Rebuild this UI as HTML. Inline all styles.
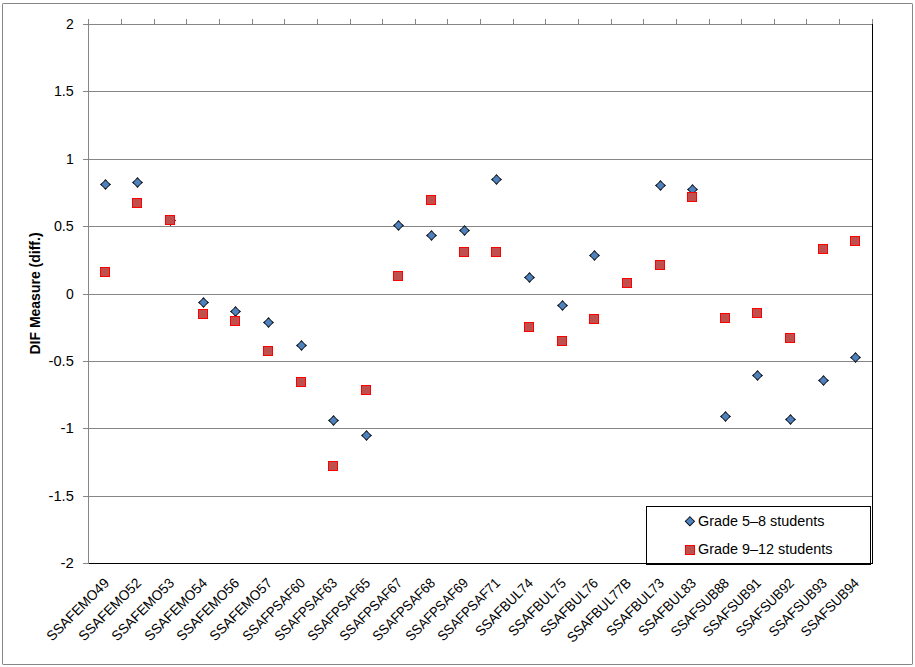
<!DOCTYPE html>
<html><head><meta charset="utf-8"><title>DIF Measure chart</title>
<style>
html,body{margin:0;padding:0;background:#fff;}
body{width:915px;height:667px;overflow:hidden;}
svg{display:block;}
text{font-family:"Liberation Sans",sans-serif;fill:#000;}
.t{font-size:14px;}
</style></head><body>
<svg width="915" height="667" viewBox="0 0 915 667">
<rect x="0" y="0" width="915" height="667" fill="#fff"/>
<rect x="2.5" y="3.5" width="910" height="661" fill="none" stroke="#868686" stroke-width="1" rx="0.6"/>
<g shape-rendering="crispEdges">
<rect x="83" y="24" width="790" height="1" fill="#868686"/>
<rect x="83" y="91" width="790" height="1" fill="#868686"/>
<rect x="83" y="159" width="790" height="1" fill="#868686"/>
<rect x="83" y="226" width="790" height="1" fill="#868686"/>
<rect x="83" y="294" width="790" height="1" fill="#868686"/>
<rect x="83" y="361" width="790" height="1" fill="#868686"/>
<rect x="83" y="428" width="790" height="1" fill="#868686"/>
<rect x="83" y="496" width="790" height="1" fill="#868686"/>
<rect x="83" y="563" width="6" height="1" fill="#868686"/>
<rect x="88" y="19" width="1" height="545" fill="#868686"/>
<rect x="88" y="19" width="1" height="5" fill="#868686"/>
<rect x="121" y="19" width="1" height="5" fill="#868686"/>
<rect x="154" y="19" width="1" height="5" fill="#868686"/>
<rect x="186" y="19" width="1" height="5" fill="#868686"/>
<rect x="219" y="19" width="1" height="5" fill="#868686"/>
<rect x="252" y="19" width="1" height="5" fill="#868686"/>
<rect x="284" y="19" width="1" height="5" fill="#868686"/>
<rect x="317" y="19" width="1" height="5" fill="#868686"/>
<rect x="350" y="19" width="1" height="5" fill="#868686"/>
<rect x="382" y="19" width="1" height="5" fill="#868686"/>
<rect x="415" y="19" width="1" height="5" fill="#868686"/>
<rect x="447" y="19" width="1" height="5" fill="#868686"/>
<rect x="480" y="19" width="1" height="5" fill="#868686"/>
<rect x="513" y="19" width="1" height="5" fill="#868686"/>
<rect x="545" y="19" width="1" height="5" fill="#868686"/>
<rect x="578" y="19" width="1" height="5" fill="#868686"/>
<rect x="611" y="19" width="1" height="5" fill="#868686"/>
<rect x="643" y="19" width="1" height="5" fill="#868686"/>
<rect x="676" y="19" width="1" height="5" fill="#868686"/>
<rect x="709" y="19" width="1" height="5" fill="#868686"/>
<rect x="741" y="19" width="1" height="5" fill="#868686"/>
<rect x="774" y="19" width="1" height="5" fill="#868686"/>
<rect x="806" y="19" width="1" height="5" fill="#868686"/>
<rect x="839" y="19" width="1" height="5" fill="#868686"/>
<rect x="872" y="19" width="1" height="5" fill="#868686"/>
<rect x="872" y="24" width="1" height="540" fill="#000"/>
<rect x="89" y="563" width="784" height="1" fill="#000"/>
</g>
<polygon points="105.50,178.95 108.05,181.95 111.05,184.50 108.05,187.05 105.50,190.05 102.95,187.05 99.95,184.50 102.95,181.95" fill="#06090f"/><polygon points="105.50,180.50 107.55,182.45 109.50,184.50 107.55,186.55 105.50,188.50 103.45,186.55 101.50,184.50 103.45,182.45" fill="#4f81bd"/>
<polygon points="137.50,176.95 140.05,179.95 143.05,182.50 140.05,185.05 137.50,188.05 134.95,185.05 131.95,182.50 134.95,179.95" fill="#06090f"/><polygon points="137.50,178.50 139.55,180.45 141.50,182.50 139.55,184.55 137.50,186.50 135.45,184.55 133.50,182.50 135.45,180.45" fill="#4f81bd"/>
<polygon points="170.50,214.95 173.05,217.95 176.05,220.50 173.05,223.05 170.50,226.05 167.95,223.05 164.95,220.50 167.95,217.95" fill="#06090f"/><polygon points="170.50,216.50 172.55,218.45 174.50,220.50 172.55,222.55 170.50,224.50 168.45,222.55 166.50,220.50 168.45,218.45" fill="#4f81bd"/>
<polygon points="203.50,296.95 206.05,299.95 209.05,302.50 206.05,305.05 203.50,308.05 200.95,305.05 197.95,302.50 200.95,299.95" fill="#06090f"/><polygon points="203.50,298.50 205.55,300.45 207.50,302.50 205.55,304.55 203.50,306.50 201.45,304.55 199.50,302.50 201.45,300.45" fill="#4f81bd"/>
<polygon points="235.50,305.95 238.05,308.95 241.05,311.50 238.05,314.05 235.50,317.05 232.95,314.05 229.95,311.50 232.95,308.95" fill="#06090f"/><polygon points="235.50,307.50 237.55,309.45 239.50,311.50 237.55,313.55 235.50,315.50 233.45,313.55 231.50,311.50 233.45,309.45" fill="#4f81bd"/>
<polygon points="268.50,316.95 271.05,319.95 274.05,322.50 271.05,325.05 268.50,328.05 265.95,325.05 262.95,322.50 265.95,319.95" fill="#06090f"/><polygon points="268.50,318.50 270.55,320.45 272.50,322.50 270.55,324.55 268.50,326.50 266.45,324.55 264.50,322.50 266.45,320.45" fill="#4f81bd"/>
<polygon points="301.50,339.95 304.05,342.95 307.05,345.50 304.05,348.05 301.50,351.05 298.95,348.05 295.95,345.50 298.95,342.95" fill="#06090f"/><polygon points="301.50,341.50 303.55,343.45 305.50,345.50 303.55,347.55 301.50,349.50 299.45,347.55 297.50,345.50 299.45,343.45" fill="#4f81bd"/>
<polygon points="333.50,414.95 336.05,417.95 339.05,420.50 336.05,423.05 333.50,426.05 330.95,423.05 327.95,420.50 330.95,417.95" fill="#06090f"/><polygon points="333.50,416.50 335.55,418.45 337.50,420.50 335.55,422.55 333.50,424.50 331.45,422.55 329.50,420.50 331.45,418.45" fill="#4f81bd"/>
<polygon points="366.50,429.95 369.05,432.95 372.05,435.50 369.05,438.05 366.50,441.05 363.95,438.05 360.95,435.50 363.95,432.95" fill="#06090f"/><polygon points="366.50,431.50 368.55,433.45 370.50,435.50 368.55,437.55 366.50,439.50 364.45,437.55 362.50,435.50 364.45,433.45" fill="#4f81bd"/>
<polygon points="398.50,219.95 401.05,222.95 404.05,225.50 401.05,228.05 398.50,231.05 395.95,228.05 392.95,225.50 395.95,222.95" fill="#06090f"/><polygon points="398.50,221.50 400.55,223.45 402.50,225.50 400.55,227.55 398.50,229.50 396.45,227.55 394.50,225.50 396.45,223.45" fill="#4f81bd"/>
<polygon points="431.50,229.95 434.05,232.95 437.05,235.50 434.05,238.05 431.50,241.05 428.95,238.05 425.95,235.50 428.95,232.95" fill="#06090f"/><polygon points="431.50,231.50 433.55,233.45 435.50,235.50 433.55,237.55 431.50,239.50 429.45,237.55 427.50,235.50 429.45,233.45" fill="#4f81bd"/>
<polygon points="464.50,224.95 467.05,227.95 470.05,230.50 467.05,233.05 464.50,236.05 461.95,233.05 458.95,230.50 461.95,227.95" fill="#06090f"/><polygon points="464.50,226.50 466.55,228.45 468.50,230.50 466.55,232.55 464.50,234.50 462.45,232.55 460.50,230.50 462.45,228.45" fill="#4f81bd"/>
<polygon points="496.50,173.95 499.05,176.95 502.05,179.50 499.05,182.05 496.50,185.05 493.95,182.05 490.95,179.50 493.95,176.95" fill="#06090f"/><polygon points="496.50,175.50 498.55,177.45 500.50,179.50 498.55,181.55 496.50,183.50 494.45,181.55 492.50,179.50 494.45,177.45" fill="#4f81bd"/>
<polygon points="529.50,271.95 532.05,274.95 535.05,277.50 532.05,280.05 529.50,283.05 526.95,280.05 523.95,277.50 526.95,274.95" fill="#06090f"/><polygon points="529.50,273.50 531.55,275.45 533.50,277.50 531.55,279.55 529.50,281.50 527.45,279.55 525.50,277.50 527.45,275.45" fill="#4f81bd"/>
<polygon points="562.50,299.95 565.05,302.95 568.05,305.50 565.05,308.05 562.50,311.05 559.95,308.05 556.95,305.50 559.95,302.95" fill="#06090f"/><polygon points="562.50,301.50 564.55,303.45 566.50,305.50 564.55,307.55 562.50,309.50 560.45,307.55 558.50,305.50 560.45,303.45" fill="#4f81bd"/>
<polygon points="594.50,249.95 597.05,252.95 600.05,255.50 597.05,258.05 594.50,261.05 591.95,258.05 588.95,255.50 591.95,252.95" fill="#06090f"/><polygon points="594.50,251.50 596.55,253.45 598.50,255.50 596.55,257.55 594.50,259.50 592.45,257.55 590.50,255.50 592.45,253.45" fill="#4f81bd"/>
<polygon points="660.50,179.95 663.05,182.95 666.05,185.50 663.05,188.05 660.50,191.05 657.95,188.05 654.95,185.50 657.95,182.95" fill="#06090f"/><polygon points="660.50,181.50 662.55,183.45 664.50,185.50 662.55,187.55 660.50,189.50 658.45,187.55 656.50,185.50 658.45,183.45" fill="#4f81bd"/>
<polygon points="692.50,183.95 695.05,186.95 698.05,189.50 695.05,192.05 692.50,195.05 689.95,192.05 686.95,189.50 689.95,186.95" fill="#06090f"/><polygon points="692.50,185.50 694.55,187.45 696.50,189.50 694.55,191.55 692.50,193.50 690.45,191.55 688.50,189.50 690.45,187.45" fill="#4f81bd"/>
<polygon points="725.50,410.95 728.05,413.95 731.05,416.50 728.05,419.05 725.50,422.05 722.95,419.05 719.95,416.50 722.95,413.95" fill="#06090f"/><polygon points="725.50,412.50 727.55,414.45 729.50,416.50 727.55,418.55 725.50,420.50 723.45,418.55 721.50,416.50 723.45,414.45" fill="#4f81bd"/>
<polygon points="757.50,369.95 760.05,372.95 763.05,375.50 760.05,378.05 757.50,381.05 754.95,378.05 751.95,375.50 754.95,372.95" fill="#06090f"/><polygon points="757.50,371.50 759.55,373.45 761.50,375.50 759.55,377.55 757.50,379.50 755.45,377.55 753.50,375.50 755.45,373.45" fill="#4f81bd"/>
<polygon points="790.50,413.95 793.05,416.95 796.05,419.50 793.05,422.05 790.50,425.05 787.95,422.05 784.95,419.50 787.95,416.95" fill="#06090f"/><polygon points="790.50,415.50 792.55,417.45 794.50,419.50 792.55,421.55 790.50,423.50 788.45,421.55 786.50,419.50 788.45,417.45" fill="#4f81bd"/>
<polygon points="823.50,374.95 826.05,377.95 829.05,380.50 826.05,383.05 823.50,386.05 820.95,383.05 817.95,380.50 820.95,377.95" fill="#06090f"/><polygon points="823.50,376.50 825.55,378.45 827.50,380.50 825.55,382.55 823.50,384.50 821.45,382.55 819.50,380.50 821.45,378.45" fill="#4f81bd"/>
<polygon points="855.50,351.95 858.05,354.95 861.05,357.50 858.05,360.05 855.50,363.05 852.95,360.05 849.95,357.50 852.95,354.95" fill="#06090f"/><polygon points="855.50,353.50 857.55,355.45 859.50,357.50 857.55,359.55 855.50,361.50 853.45,359.55 851.50,357.50 853.45,355.45" fill="#4f81bd"/>
<g shape-rendering="crispEdges">
<rect x="100" y="267" width="10" height="10" fill="#ff0000"/><rect x="101" y="268" width="8" height="8" fill="#c0504d"/>
<rect x="132" y="198" width="10" height="10" fill="#ff0000"/><rect x="133" y="199" width="8" height="8" fill="#c0504d"/>
<rect x="165" y="215" width="10" height="10" fill="#ff0000"/><rect x="166" y="216" width="8" height="8" fill="#c0504d"/>
<rect x="198" y="309" width="10" height="10" fill="#ff0000"/><rect x="199" y="310" width="8" height="8" fill="#c0504d"/>
<rect x="230" y="316" width="10" height="10" fill="#ff0000"/><rect x="231" y="317" width="8" height="8" fill="#c0504d"/>
<rect x="263" y="346" width="10" height="10" fill="#ff0000"/><rect x="264" y="347" width="8" height="8" fill="#c0504d"/>
<rect x="296" y="377" width="10" height="10" fill="#ff0000"/><rect x="297" y="378" width="8" height="8" fill="#c0504d"/>
<rect x="328" y="461" width="10" height="10" fill="#ff0000"/><rect x="329" y="462" width="8" height="8" fill="#c0504d"/>
<rect x="361" y="385" width="10" height="10" fill="#ff0000"/><rect x="362" y="386" width="8" height="8" fill="#c0504d"/>
<rect x="393" y="271" width="10" height="10" fill="#ff0000"/><rect x="394" y="272" width="8" height="8" fill="#c0504d"/>
<rect x="426" y="195" width="10" height="10" fill="#ff0000"/><rect x="427" y="196" width="8" height="8" fill="#c0504d"/>
<rect x="459" y="247" width="10" height="10" fill="#ff0000"/><rect x="460" y="248" width="8" height="8" fill="#c0504d"/>
<rect x="491" y="247" width="10" height="10" fill="#ff0000"/><rect x="492" y="248" width="8" height="8" fill="#c0504d"/>
<rect x="524" y="322" width="10" height="10" fill="#ff0000"/><rect x="525" y="323" width="8" height="8" fill="#c0504d"/>
<rect x="557" y="336" width="10" height="10" fill="#ff0000"/><rect x="558" y="337" width="8" height="8" fill="#c0504d"/>
<rect x="589" y="314" width="10" height="10" fill="#ff0000"/><rect x="590" y="315" width="8" height="8" fill="#c0504d"/>
<rect x="622" y="278" width="10" height="10" fill="#ff0000"/><rect x="623" y="279" width="8" height="8" fill="#c0504d"/>
<rect x="655" y="260" width="10" height="10" fill="#ff0000"/><rect x="656" y="261" width="8" height="8" fill="#c0504d"/>
<rect x="687" y="192" width="10" height="10" fill="#ff0000"/><rect x="688" y="193" width="8" height="8" fill="#c0504d"/>
<rect x="720" y="313" width="10" height="10" fill="#ff0000"/><rect x="721" y="314" width="8" height="8" fill="#c0504d"/>
<rect x="752" y="308" width="10" height="10" fill="#ff0000"/><rect x="753" y="309" width="8" height="8" fill="#c0504d"/>
<rect x="785" y="333" width="10" height="10" fill="#ff0000"/><rect x="786" y="334" width="8" height="8" fill="#c0504d"/>
<rect x="818" y="244" width="10" height="10" fill="#ff0000"/><rect x="819" y="245" width="8" height="8" fill="#c0504d"/>
<rect x="850" y="236" width="10" height="10" fill="#ff0000"/><rect x="851" y="237" width="8" height="8" fill="#c0504d"/>
</g>
<g shape-rendering="crispEdges">
<rect x="646.5" y="506.5" width="224" height="58" fill="#fff" stroke="#000" stroke-width="1"/>
<rect x="646" y="563" width="225" height="1" fill="#000"/>
<rect x="685" y="545" width="10" height="10" fill="#ff0000"/><rect x="686" y="546" width="8" height="8" fill="#c0504d"/>
</g>
<polygon points="689.90,516.05 692.50,518.70 695.15,521.30 692.50,523.90 689.90,526.55 687.30,523.90 684.65,521.30 687.30,518.70" fill="#06090f"/><polygon points="689.90,517.30 691.93,519.27 693.90,521.30 691.93,523.33 689.90,525.30 687.87,523.33 685.90,521.30 687.87,519.27" fill="#4f81bd"/>
<text class="t" x="698" y="526" textLength="126.5" lengthAdjust="spacingAndGlyphs">Grade 5–8 students</text>
<text class="t" x="698" y="554" textLength="134.5" lengthAdjust="spacingAndGlyphs">Grade 9–12 students</text>
<text class="t" x="73.8" y="29" text-anchor="end" textLength="7.78" lengthAdjust="spacingAndGlyphs">2</text>
<text class="t" x="73.8" y="96" text-anchor="end" textLength="19.9" lengthAdjust="spacingAndGlyphs">1.5</text>
<text class="t" x="73.8" y="164" text-anchor="end" textLength="7.78" lengthAdjust="spacingAndGlyphs">1</text>
<text class="t" x="73.8" y="231" text-anchor="end" textLength="19.9" lengthAdjust="spacingAndGlyphs">0.5</text>
<text class="t" x="73.8" y="299" text-anchor="end" textLength="7.78" lengthAdjust="spacingAndGlyphs">0</text>
<text class="t" x="73.8" y="366" text-anchor="end" textLength="25.2" lengthAdjust="spacingAndGlyphs">-0.5</text>
<text class="t" x="73.8" y="433" text-anchor="end" textLength="13.3" lengthAdjust="spacingAndGlyphs">-1</text>
<text class="t" x="73.8" y="501" text-anchor="end" textLength="25.2" lengthAdjust="spacingAndGlyphs">-1.5</text>
<text class="t" x="73.8" y="568" text-anchor="end" textLength="13.3" lengthAdjust="spacingAndGlyphs">-2</text>
<text x="40" y="293.5" transform="rotate(-90 40 293.5)" text-anchor="middle" style="font-size:14px;font-weight:bold">DIF Measure (diff.)</text>
<text class="t" x="110.00" y="584.0" transform="rotate(-45 110.00 584.0)" text-anchor="end" textLength="81.6" lengthAdjust="spacingAndGlyphs">SSAFEMO49</text>
<text class="t" x="142.00" y="584.0" transform="rotate(-45 142.00 584.0)" text-anchor="end" textLength="81.6" lengthAdjust="spacingAndGlyphs">SSAFEMO52</text>
<text class="t" x="175.00" y="584.0" transform="rotate(-45 175.00 584.0)" text-anchor="end" textLength="81.6" lengthAdjust="spacingAndGlyphs">SSAFEMO53</text>
<text class="t" x="208.00" y="584.0" transform="rotate(-45 208.00 584.0)" text-anchor="end" textLength="81.6" lengthAdjust="spacingAndGlyphs">SSAFEMO54</text>
<text class="t" x="240.00" y="584.0" transform="rotate(-45 240.00 584.0)" text-anchor="end" textLength="81.6" lengthAdjust="spacingAndGlyphs">SSAFEMO56</text>
<text class="t" x="273.00" y="584.0" transform="rotate(-45 273.00 584.0)" text-anchor="end" textLength="81.6" lengthAdjust="spacingAndGlyphs">SSAFEMO57</text>
<text class="t" x="306.00" y="584.0" transform="rotate(-45 306.00 584.0)" text-anchor="end" textLength="81.7" lengthAdjust="spacingAndGlyphs">SSAFPSAF60</text>
<text class="t" x="338.00" y="584.0" transform="rotate(-45 338.00 584.0)" text-anchor="end" textLength="81.7" lengthAdjust="spacingAndGlyphs">SSAFPSAF63</text>
<text class="t" x="371.00" y="584.0" transform="rotate(-45 371.00 584.0)" text-anchor="end" textLength="81.7" lengthAdjust="spacingAndGlyphs">SSAFPSAF65</text>
<text class="t" x="403.00" y="584.0" transform="rotate(-45 403.00 584.0)" text-anchor="end" textLength="81.7" lengthAdjust="spacingAndGlyphs">SSAFPSAF67</text>
<text class="t" x="436.00" y="584.0" transform="rotate(-45 436.00 584.0)" text-anchor="end" textLength="81.7" lengthAdjust="spacingAndGlyphs">SSAFPSAF68</text>
<text class="t" x="469.00" y="584.0" transform="rotate(-45 469.00 584.0)" text-anchor="end" textLength="81.7" lengthAdjust="spacingAndGlyphs">SSAFPSAF69</text>
<text class="t" x="501.00" y="584.0" transform="rotate(-45 501.00 584.0)" text-anchor="end" textLength="81.7" lengthAdjust="spacingAndGlyphs">SSAFPSAF71</text>
<text class="t" x="534.00" y="584.0" transform="rotate(-45 534.00 584.0)" text-anchor="end" textLength="75.0" lengthAdjust="spacingAndGlyphs">SSAFBUL74</text>
<text class="t" x="567.00" y="584.0" transform="rotate(-45 567.00 584.0)" text-anchor="end" textLength="75.0" lengthAdjust="spacingAndGlyphs">SSAFBUL75</text>
<text class="t" x="599.00" y="584.0" transform="rotate(-45 599.00 584.0)" text-anchor="end" textLength="75.0" lengthAdjust="spacingAndGlyphs">SSAFBUL76</text>
<text class="t" x="632.00" y="584.0" transform="rotate(-45 632.00 584.0)" text-anchor="end" textLength="83.9" lengthAdjust="spacingAndGlyphs">SSAFBUL77B</text>
<text class="t" x="665.00" y="584.0" transform="rotate(-45 665.00 584.0)" text-anchor="end" textLength="75.0" lengthAdjust="spacingAndGlyphs">SSAFBUL73</text>
<text class="t" x="697.00" y="584.0" transform="rotate(-45 697.00 584.0)" text-anchor="end" textLength="75.0" lengthAdjust="spacingAndGlyphs">SSAFBUL83</text>
<text class="t" x="730.00" y="584.0" transform="rotate(-45 730.00 584.0)" text-anchor="end" textLength="75.6" lengthAdjust="spacingAndGlyphs">SSAFSUB88</text>
<text class="t" x="762.00" y="584.0" transform="rotate(-45 762.00 584.0)" text-anchor="end" textLength="75.6" lengthAdjust="spacingAndGlyphs">SSAFSUB91</text>
<text class="t" x="795.00" y="584.0" transform="rotate(-45 795.00 584.0)" text-anchor="end" textLength="75.6" lengthAdjust="spacingAndGlyphs">SSAFSUB92</text>
<text class="t" x="828.00" y="584.0" transform="rotate(-45 828.00 584.0)" text-anchor="end" textLength="75.6" lengthAdjust="spacingAndGlyphs">SSAFSUB93</text>
<text class="t" x="860.00" y="584.0" transform="rotate(-45 860.00 584.0)" text-anchor="end" textLength="75.6" lengthAdjust="spacingAndGlyphs">SSAFSUB94</text>
</svg>
</body></html>
